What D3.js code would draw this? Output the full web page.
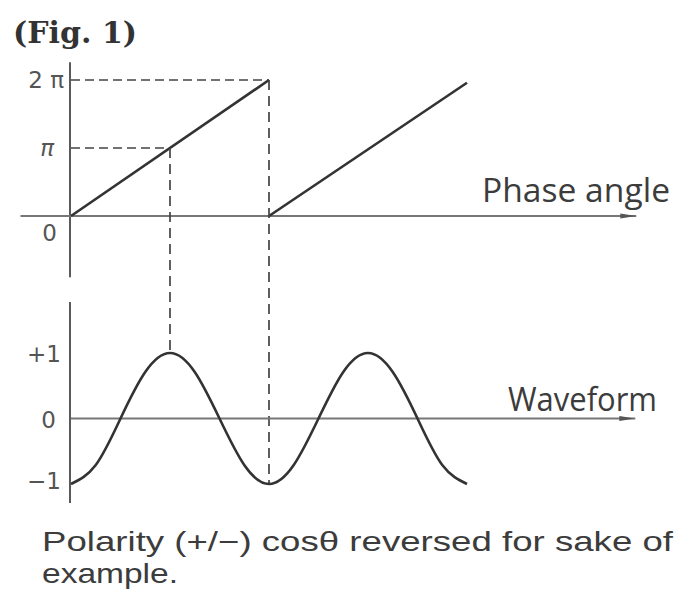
<!DOCTYPE html>
<html>
<head>
<meta charset="utf-8">
<script src="https://cdn.jsdelivr.net/npm/d3@7"></script>
<style>
  html, body { margin: 0; padding: 0; background: #fff; }
  svg { display: block; }
</style>
</head>
<body>
<svg id="chart" width="679" height="592"></svg>
<script>
// ---- data ----
// phase ramps: [x in units of π, phase in units of π]
const ramp1 = [[0, 0], [2, 2]];
const ramp2 = [[2, 0], [4, 1.96]];
// waveform samples (x in units of π)
const waveX = [0, 0.25, 0.5, 0.75, 1, 1.25, 1.5, 1.75, 2, 2.25, 2.5, 2.75, 3, 3.25, 3.5, 3.75, 4];
const waveY = [-1, -0.71, 0, 0.71, 1, 0.71, 0, -0.71, -1, -0.71, 0, 0.71, 1, 0.71, 0, -0.71, -1];
// tick labels
const phaseTicks = [0, 1, 2];
const phaseTickLabels = ["0", "π", "2 π"];
const waveTicks = [1, 0, -1];
const waveTickLabels = ["+1", "0", "−1"];
// guide markers (x in units of π)
const guides = [{x: 1, phase: 1, wave: 1}, {x: 2, phase: 2, wave: -1}];
const titleText = "(Fig. 1)";
const phaseLabel = "Phase angle";
const waveLabel = "Waveform";
const captionLines = ["Polarity (+/−) cosθ reversed for sake of", "example."];

// ---- scales ----
const svg = d3.select("#chart");
const x = d3.scaleLinear().domain([0, 4]).range([71, 467]);
const yP = d3.scaleLinear().domain([0, 2]).range([216, 80]);
const yW = d3.scaleLinear().domain([-1, 1]).range([484, 353]);

const ink = "#333";
const axisInk = "#5a5a5a";
const textInk = "#3c3c3c";

// arrow marker
svg.append("defs").append("marker")
  .attr("id", "arr").attr("viewBox", "0 0 16 8")
  .attr("refX", 16).attr("refY", 4)
  .attr("markerWidth", 16).attr("markerHeight", 8)
  .attr("markerUnits", "userSpaceOnUse")
  .attr("orient", "auto")
  .append("path").attr("d", "M0,1.5 L16,4 L0,6.5 Z").attr("fill", "#555");

// ---- title ----
svg.append("text").text(titleText)
  .attr("x", 13).attr("y", 43)
  .attr("font-family", "DejaVu Serif").attr("font-weight", "bold")
  .attr("font-size", 30).attr("fill", "#333")
  .attr("textLength", 124).attr("lengthAdjust", "spacingAndGlyphs");

// ---- top panel: phase ----
const gTop = svg.append("g");
gTop.append("line")
  .attr("x1", x(0) - 1).attr("x2", x(0) - 1)
  .attr("y1", yP(2.26)).attr("y2", yP(-0.9))
  .attr("stroke", axisInk).attr("stroke-width", 2);
gTop.append("line")
  .attr("x1", x(-0.51)).attr("x2", x(5.71))
  .attr("y1", yP(0)).attr("y2", yP(0))
  .attr("stroke", "#777").attr("stroke-width", 2)
  .attr("marker-end", "url(#arr)");

// dashed guides
guides.forEach(g => {
  gTop.append("line")
    .attr("x1", x(0)).attr("x2", x(g.x))
    .attr("y1", yP(g.phase)).attr("y2", yP(g.phase))
    .attr("stroke", "#444").attr("stroke-width", 1.7)
    .attr("stroke-dasharray", "9,5");
  svg.append("line")
    .attr("x1", x(g.x)).attr("x2", x(g.x))
    .attr("y1", yP(g.phase)).attr("y2", yW(g.wave))
    .attr("stroke", "#444").attr("stroke-width", 1.7)
    .attr("stroke-dasharray", "10,6");
});

const lineP = d3.line().x(d => x(d[0])).y(d => yP(d[1]));
[ramp1, ramp2].forEach(r => {
  gTop.append("path").attr("d", lineP(r))
    .attr("fill", "none").attr("stroke", ink).attr("stroke-width", 2.6);
});

const topLabelPos = [{dx: -14, dy: 17}, {dx: -17, dy: 0}, {dx: -7, dy: 0}];
phaseTicks.forEach((t, i) => {
  gTop.append("text").text(phaseTickLabels[i])
    .attr("x", x(0) + topLabelPos[i].dx)
    .attr("y", yP(t) + topLabelPos[i].dy)
    .attr("dy", "0.35em")
    .attr("text-anchor", "end")
    .attr("font-family", "DejaVu Sans")
    .attr("font-style", i === 1 ? "italic" : "normal")
    .attr("font-size", 23).attr("fill", "#555");
});

gTop.append("text").text(phaseLabel)
  .attr("x", 482).attr("y", 202)
  .attr("font-family", "Open Sans").attr("font-size", 32).attr("fill", textInk)
  .attr("textLength", 188).attr("lengthAdjust", "spacingAndGlyphs");

// ---- bottom panel: waveform ----
const gBot = svg.append("g");
gBot.append("line")
  .attr("x1", x(0) - 1).attr("x2", x(0) - 1)
  .attr("y1", 302).attr("y2", yW(-1.29))
  .attr("stroke", axisInk).attr("stroke-width", 2);
gBot.append("line")
  .attr("x1", x(0)).attr("x2", x(5.7))
  .attr("y1", yW(0)).attr("y2", yW(0))
  .attr("stroke", "#777").attr("stroke-width", 2)
  .attr("marker-end", "url(#arr)");

const lineW = d3.line().x(d => x(d[0])).y(d => yW(d[1])).curve(d3.curveNatural);
gBot.append("path")
  .attr("d", lineW(waveX.map((v, i) => [v, waveY[i]])))
  .attr("fill", "none").attr("stroke", ink).attr("stroke-width", 2.6);

const botLabelPos = [{dx: -10}, {dx: -15}, {dx: -10}];
waveTicks.forEach((t, i) => {
  gBot.append("text").text(waveTickLabels[i])
    .attr("x", x(0) + botLabelPos[i].dx)
    .attr("y", yW(t) + (i === 2 ? -3 : 1))
    .attr("dy", "0.35em")
    .attr("text-anchor", "end")
    .attr("font-family", "DejaVu Sans")
    .attr("font-size", 23).attr("fill", "#555");
});

gBot.append("text").text(waveLabel)
  .attr("x", 508).attr("y", 411)
  .attr("font-family", "Open Sans").attr("font-size", 32).attr("fill", textInk)
  .attr("textLength", 149).attr("lengthAdjust", "spacingAndGlyphs");

// ---- caption ----
const capLens = [631, 136];
captionLines.forEach((s, i) => {
  svg.append("text").text(s)
    .attr("x", 42).attr("y", 551 + i * 32)
    .attr("font-family", "Liberation Sans").attr("font-size", 28).attr("fill", textInk)
    .attr("textLength", capLens[i]).attr("lengthAdjust", "spacingAndGlyphs");
});
</script>
</body>
</html>
